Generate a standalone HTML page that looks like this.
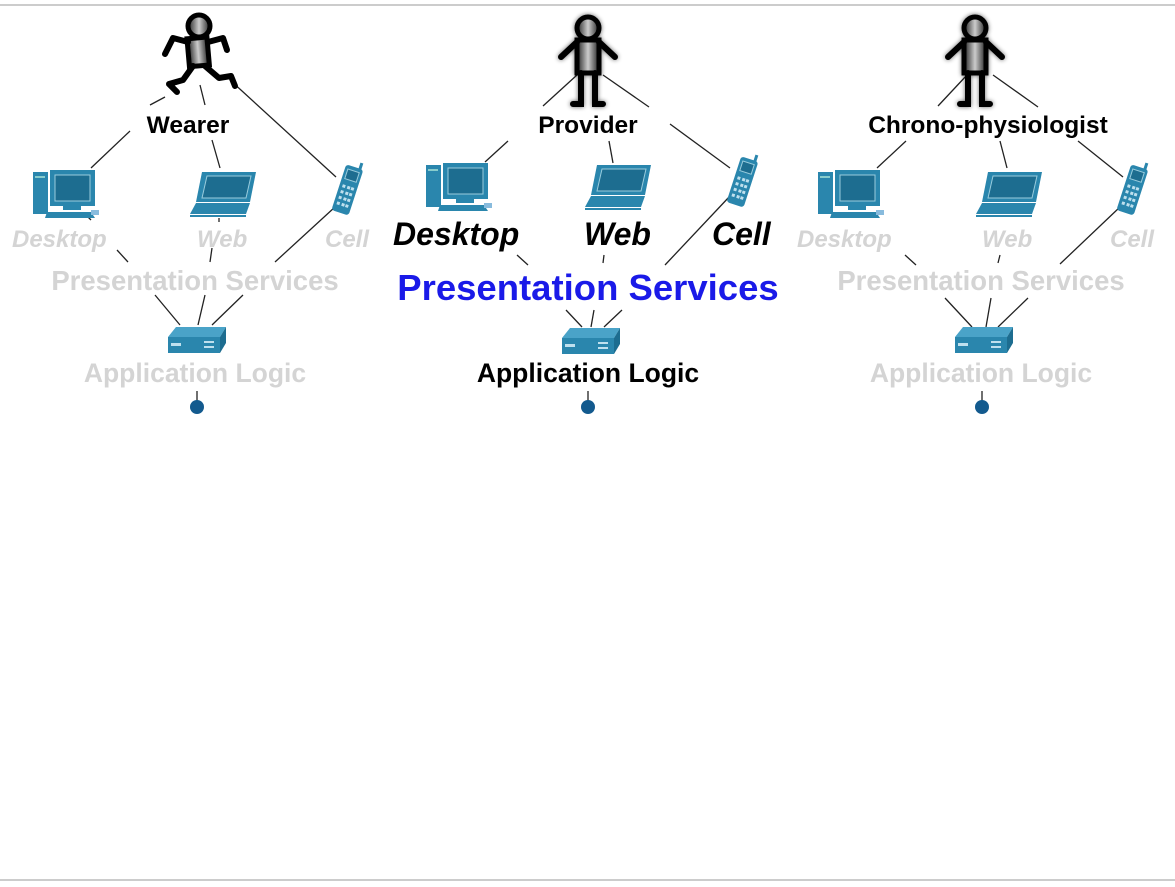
<!DOCTYPE html>
<html><head><meta charset="utf-8"><style>
html,body{margin:0;padding:0;background:#fff;width:1175px;height:887px;overflow:hidden}
svg{display:block}
text{font-family:"Liberation Sans","DejaVu Sans",sans-serif;font-weight:bold}
</style></head><body>
<svg width="1175" height="887" viewBox="0 0 1175 887">
<defs>
<linearGradient id="bg" x1="0" x2="1"><stop offset="0" stop-color="#222"/><stop offset="0.5" stop-color="#ccc"/><stop offset="1" stop-color="#222"/></linearGradient>
<filter id="gl" x="-50%" y="-50%" width="200%" height="200%"><feGaussianBlur stdDeviation="2.5"/></filter>
<g id="desk">
 <rect x="0" y="2" width="15" height="42" fill="#2a86ad"/>
 <rect x="2" y="6" width="10" height="2" fill="#8cc"/>
 <rect x="17" y="0" width="45" height="36" fill="#2a86ad"/>
 <rect x="22" y="5" width="35" height="26" fill="#1d6d90" stroke="#9cd" stroke-width="1"/>
 <rect x="30" y="36" width="18" height="4" fill="#2a86ad"/>
 <polygon points="14,42 58,42 62,48 12,48" fill="#2a86ad"/>
 <rect x="58" y="40" width="8" height="5" fill="#8bd"/>
</g>
<g id="lap">
 <polygon points="12,0 66,0 60,30 6,30" fill="#2a86ad"/>
 <polygon points="17,4 61,4 56,26 12,26" fill="#1d6d90" stroke="#9cd"/>
 <polygon points="6,31 60,31 56,42 0,42" fill="#2a86ad"/>
 <line x1="0" y1="44" x2="56" y2="44" stroke="#2a86ad" stroke-width="2"/>
</g>
<g id="cell">
 <g transform="rotate(18 12 28)">
 <rect x="3" y="6" width="18" height="48" rx="3" fill="#2a86ad"/>
 <rect x="16" y="0" width="3" height="8" fill="#2a86ad"/>
 <rect x="6" y="10" width="12" height="10" fill="#1d6d90" stroke="#9cd"/>
 <g fill="#bfe0ee"><rect x="6" y="26" width="3" height="3"/><rect x="11" y="26" width="3" height="3"/><rect x="15" y="26" width="3" height="3"/><rect x="6" y="32" width="3" height="3"/><rect x="11" y="32" width="3" height="3"/><rect x="15" y="32" width="3" height="3"/><rect x="6" y="38" width="3" height="3"/><rect x="11" y="38" width="3" height="3"/><rect x="15" y="38" width="3" height="3"/><rect x="6" y="44" width="3" height="3"/><rect x="11" y="44" width="3" height="3"/><rect x="15" y="44" width="3" height="3"/></g>
 </g>
</g>
<g id="router">
 <polygon points="8,0 58,0 52,10 0,10" fill="#4aa3c8"/>
 <polygon points="58,0 58,16 52,26 52,10" fill="#1d6d90"/>
 <rect x="0" y="10" width="52" height="16" fill="#2a86ad"/>
 <rect x="3" y="16" width="10" height="3" fill="#bfe0ee"/>
 <rect x="36" y="14" width="10" height="2" fill="#bfe0ee"/>
 <rect x="36" y="19" width="10" height="2" fill="#bfe0ee"/>
</g>
<g id="standshape">
 <circle cx="0" cy="-32" r="11" fill="url(#bg)" stroke="#000" stroke-width="5"/>
 <rect x="-11" y="-20" width="22" height="33" fill="url(#bg)" stroke="#000" stroke-width="5"/>
 <path d="M-11,-18 L-27,-3 M11,-18 L27,-3 M-7,13 L-7,44 L-15,44 M7,13 L7,44 L15,44" stroke="#000" stroke-width="6" fill="none" stroke-linecap="round"/>
</g>
<g id="stand">
 <g filter="url(#gl)" opacity="0.6"><use href="#standshape"/></g>
 <use href="#standshape"/>
</g>
</defs>

<line x1="0" y1="5" x2="1175" y2="5" stroke="#ccc" stroke-width="2"/>
<line x1="0" y1="880" x2="1175" y2="880" stroke="#ccc" stroke-width="2"/>

<!-- Panel 1 -->
<g stroke="#222" stroke-width="1.3" fill="none">
 <line x1="165" y1="97" x2="150" y2="105"/>
 <line x1="200" y1="85" x2="205" y2="105"/>
 <line x1="230" y1="80" x2="336" y2="177"/>
 <line x1="130" y1="131" x2="91" y2="168"/>
 <line x1="212" y1="140" x2="220" y2="168"/>
 <line x1="88" y1="217" x2="91" y2="220"/>
 <line x1="219" y1="218" x2="219" y2="222"/>
 <line x1="117" y1="250" x2="128" y2="262"/>
 <line x1="212" y1="248" x2="210" y2="262"/>
 <line x1="275" y1="262" x2="335" y2="207"/>
 <line x1="155" y1="295" x2="180" y2="325"/>
 <line x1="205" y1="295" x2="198" y2="325"/>
 <line x1="243" y1="295" x2="212" y2="325"/>
 <line x1="197" y1="391" x2="197" y2="402"/>
</g>
<g transform="translate(197,50)">
 <circle cx="2" cy="-24" r="11" fill="url(#bg)" stroke="#000" stroke-width="5"/>
 <rect x="-9" y="-12" width="20" height="28" fill="url(#bg)" stroke="#000" stroke-width="5" transform="rotate(-5)"/>
 <path d="M-9,-8 L-24,-12 L-32,4 M11,-8 L26,-12 L30,0 M-4,16 L-14,30 L-28,34 L-20,42 M8,16 L22,28 L34,26 L38,36" stroke="#000" stroke-width="6" fill="none" stroke-linecap="round" stroke-linejoin="round"/>
</g>
<text x="188" y="133" font-size="24.5" text-anchor="middle" fill="#000">Wearer</text>
<use href="#desk" x="33" y="170"/>
<use href="#lap" x="190" y="172"/>
<use href="#cell" x="336" y="160"/>
<g font-style="italic" font-size="24" fill="#d4d4d4">
<text x="12" y="247">Desktop</text><text x="197" y="247">Web</text><text x="325" y="247">Cell</text></g>
<text x="195" y="290" font-size="27.5" text-anchor="middle" fill="#d4d4d4">Presentation Services</text>
<use href="#router" x="168" y="327"/>
<text x="195" y="382" font-size="26.5" text-anchor="middle" fill="#d4d4d4">Application Logic</text>
<circle cx="197" cy="407" r="7" fill="#135a8e"/>

<!-- Panel 2 -->
<g stroke="#222" stroke-width="1.3" fill="none">
 <line x1="577" y1="75" x2="543" y2="106"/>
 <line x1="603" y1="75" x2="649" y2="107"/>
 <line x1="508" y1="141" x2="485" y2="162"/>
 <line x1="609" y1="141" x2="613" y2="163"/>
 <line x1="670" y1="124" x2="730" y2="168"/>
 <line x1="517" y1="255" x2="528" y2="265"/>
 <line x1="604" y1="255" x2="603" y2="263"/>
 <line x1="665" y1="265" x2="730" y2="196"/>
 <line x1="566" y1="310" x2="582" y2="327"/>
 <line x1="594" y1="310" x2="591" y2="327"/>
 <line x1="622" y1="310" x2="604" y2="327"/>
 <line x1="588" y1="391" x2="588" y2="402"/>
</g>
<use href="#stand" x="588" y="60"/>
<text x="588" y="133" font-size="24.5" text-anchor="middle" fill="#000">Provider</text>
<use href="#desk" x="426" y="163"/>
<use href="#lap" x="585" y="165"/>
<use href="#cell" x="731" y="152"/>
<g font-style="italic" font-size="32" fill="#000">
<text x="393" y="245">Desktop</text><text x="584" y="245">Web</text><text x="712" y="245">Cell</text></g>
<text x="588" y="300" font-size="36.5" text-anchor="middle" fill="#1a1ae8">Presentation Services</text>
<use href="#router" x="562" y="328"/>
<text x="588" y="382" font-size="26.5" text-anchor="middle" fill="#000">Application Logic</text>
<circle cx="588" cy="407" r="7" fill="#135a8e"/>

<!-- Panel 3 -->
<g stroke="#222" stroke-width="1.3" fill="none">
 <line x1="967" y1="75" x2="938" y2="106"/>
 <line x1="993" y1="75" x2="1038" y2="107"/>
 <line x1="906" y1="141" x2="877" y2="168"/>
 <line x1="1000" y1="141" x2="1007" y2="168"/>
 <line x1="1078" y1="141" x2="1123" y2="177"/>
 <line x1="905" y1="255" x2="916" y2="265"/>
 <line x1="1000" y1="255" x2="998" y2="263"/>
 <line x1="1060" y1="264" x2="1120" y2="207"/>
 <line x1="945" y1="298" x2="972" y2="327"/>
 <line x1="991" y1="298" x2="986" y2="327"/>
 <line x1="1028" y1="298" x2="998" y2="327"/>
 <line x1="982" y1="391" x2="982" y2="402"/>
</g>
<use href="#stand" x="975" y="60"/>
<text x="988" y="133" font-size="24.5" text-anchor="middle" fill="#000">Chrono-physiologist</text>
<use href="#desk" x="818" y="170"/>
<use href="#lap" x="976" y="172"/>
<use href="#cell" x="1121" y="160"/>
<g font-style="italic" font-size="24" fill="#d4d4d4">
<text x="797" y="247">Desktop</text><text x="982" y="247">Web</text><text x="1110" y="247">Cell</text></g>
<text x="981" y="290" font-size="27.5" text-anchor="middle" fill="#d4d4d4">Presentation Services</text>
<use href="#router" x="955" y="327"/>
<text x="981" y="382" font-size="26.5" text-anchor="middle" fill="#d4d4d4">Application Logic</text>
<circle cx="982" cy="407" r="7" fill="#135a8e"/>
</svg>
</body></html>
